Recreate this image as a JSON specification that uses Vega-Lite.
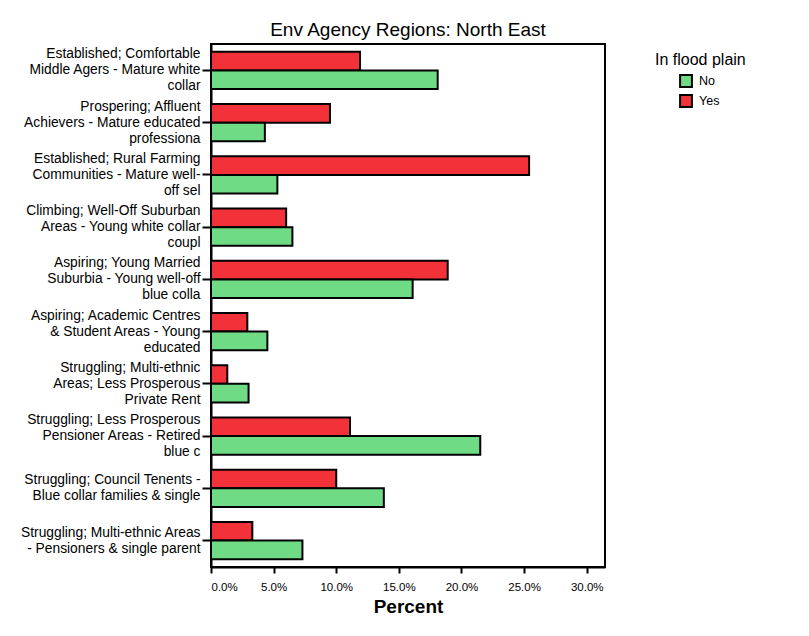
{
  "$schema": "https://vega.github.io/schema/vega-lite/v6.json",
  "autosize": {"type": "none"},
  "padding": {"left": 211, "top": 44, "right": 204, "bottom": 69},
  "width": 394,
  "height": 523,
  "background": "white",
  "title": {
    "text": "Env Agency Regions: North East",
    "anchor": "middle",
    "fontSize": 19,
    "fontWeight": "normal",
    "font": "Liberation Sans",
    "color": "black",
    "offset": 4
  },
  "data": {
    "values": [
      {"group": "Established; Comfortable\nMiddle Agers - Mature white\ncollar", "flood": "Yes", "pct": 0.119},
      {"group": "Established; Comfortable\nMiddle Agers - Mature white\ncollar", "flood": "No", "pct": 0.181},
      {"group": "Prospering; Affluent\nAchievers - Mature educated\nprofessiona", "flood": "Yes", "pct": 0.095},
      {"group": "Prospering; Affluent\nAchievers - Mature educated\nprofessiona", "flood": "No", "pct": 0.043},
      {"group": "Established; Rural Farming\nCommunities - Mature well-\noff sel", "flood": "Yes", "pct": 0.254},
      {"group": "Established; Rural Farming\nCommunities - Mature well-\noff sel", "flood": "No", "pct": 0.053},
      {"group": "Climbing; Well-Off Suburban\nAreas - Young white collar\ncoupl", "flood": "Yes", "pct": 0.060},
      {"group": "Climbing; Well-Off Suburban\nAreas - Young white collar\ncoupl", "flood": "No", "pct": 0.065},
      {"group": "Aspiring; Young Married\nSuburbia - Young well-off\nblue colla", "flood": "Yes", "pct": 0.189},
      {"group": "Aspiring; Young Married\nSuburbia - Young well-off\nblue colla", "flood": "No", "pct": 0.161},
      {"group": "Aspiring; Academic Centres\n& Student Areas - Young\neducated", "flood": "Yes", "pct": 0.029},
      {"group": "Aspiring; Academic Centres\n& Student Areas - Young\neducated", "flood": "No", "pct": 0.045},
      {"group": "Struggling; Multi-ethnic\nAreas; Less Prosperous\nPrivate Rent", "flood": "Yes", "pct": 0.013},
      {"group": "Struggling; Multi-ethnic\nAreas; Less Prosperous\nPrivate Rent", "flood": "No", "pct": 0.030},
      {"group": "Struggling; Less Prosperous\nPensioner Areas - Retired\nblue c", "flood": "Yes", "pct": 0.111},
      {"group": "Struggling; Less Prosperous\nPensioner Areas - Retired\nblue c", "flood": "No", "pct": 0.215},
      {"group": "Struggling; Council Tenents -\nBlue collar families & single", "flood": "Yes", "pct": 0.100},
      {"group": "Struggling; Council Tenents -\nBlue collar families & single", "flood": "No", "pct": 0.138},
      {"group": "Struggling; Multi-ethnic Areas\n-  Pensioners & single parent", "flood": "Yes", "pct": 0.033},
      {"group": "Struggling; Multi-ethnic Areas\n-  Pensioners & single parent", "flood": "No", "pct": 0.073}
    ]
  },
  "mark": {"type": "bar", "stroke": "black", "strokeWidth": 2},
  "encoding": {
    "y": {
      "field": "group",
      "type": "nominal",
      "sort": null,
      "scale": {"paddingInner": 0.29, "paddingOuter": 0.15},
      "axis": {
        "title": null,
        "labelExpr": "split(datum.label, '\\n')",
        "labelOffset": {"expr": "-(length(split(datum.value, '\\n')) - 1) * 8"},
        "labelFont": "Liberation Sans",
        "labelFontSize": 13.8,
        "labelLineHeight": 16,
        "labelColor": "black",
        "labelLimit": 220,
        "labelPadding": 2,
        "tickSize": 9,
        "tickColor": "black",
        "tickWidth": 2,
        "domainColor": "black",
        "domainWidth": 2
      }
    },
    "yOffset": {
      "field": "flood",
      "type": "nominal",
      "sort": ["Yes", "No"],
      "scale": {"paddingInner": 0, "paddingOuter": 0}
    },
    "x": {
      "field": "pct",
      "type": "quantitative",
      "scale": {"domain": [0, 0.3146], "nice": false, "zero": true},
      "axis": {
        "title": "Percent",
        "format": ".1%",
        "values": [0, 0.05, 0.1, 0.15, 0.2, 0.25, 0.3],
        "grid": false,
        "labelFont": "Liberation Sans",
        "labelFontSize": 11.5,
        "labelColor": "black",
        "labelPadding": 8,
        "tickSize": 6,
        "tickColor": "black",
        "tickWidth": 2,
        "domainColor": "black",
        "domainWidth": 2,
        "titleFont": "Liberation Sans",
        "titleFontSize": 19,
        "titleFontWeight": "bold",
        "titleColor": "black",
        "titlePadding": 5
      }
    },
    "color": {
      "field": "flood",
      "type": "nominal",
      "scale": {"domain": ["No", "Yes"], "range": ["#6FDC85", "#F23238"]},
      "legend": {
        "title": "In flood plain",
        "orient": "none",
        "legendX": 444,
        "legendY": 8,
        "titleFont": "Liberation Sans",
        "titleFontSize": 16,
        "titleFontWeight": "normal",
        "titleColor": "black",
        "titlePadding": 6,
        "labelFont": "Liberation Sans",
        "labelFontSize": 12.5,
        "labelColor": "black",
        "labelOffset": 6,
        "symbolType": "square",
        "symbolSize": 140,
        "symbolStrokeColor": "black",
        "symbolStrokeWidth": 2,
        "symbolOffset": 24,
        "rowPadding": 0
      }
    }
  },
  "config": {
    "view": {"stroke": "black", "strokeWidth": 2},
    "font": "Liberation Sans"
  }
}
